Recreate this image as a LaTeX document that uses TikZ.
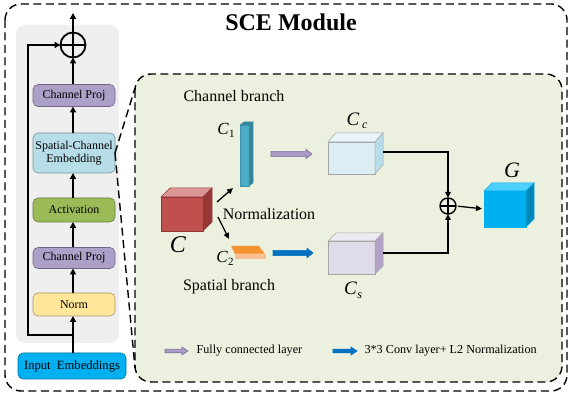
\documentclass[tikz,border=0pt]{standalone}
\usepackage{fontspec}
\setmainfont{Liberation Serif}
\usetikzlibrary{arrows.meta,calc}
\definecolor{panelgray}{HTML}{EFEFEF}
\definecolor{purpleb}{HTML}{AC9FC8}
\definecolor{sceblue}{HTML}{B7DEE8}
\definecolor{actgreen}{HTML}{9BBB59}
\definecolor{normyel}{HTML}{FFE699}
\definecolor{inblue}{HTML}{00B0F0}
\definecolor{greenbg}{HTML}{EBF1DE}
\definecolor{redF}{HTML}{C0504D}
\definecolor{redT}{HTML}{D99694}
\definecolor{redS}{HTML}{953735}
\definecolor{barF}{HTML}{4BACC6}
\definecolor{barT}{HTML}{31859C}
\definecolor{ccF}{HTML}{DAEEF3}
\definecolor{ccT}{HTML}{E9F5F8}
\definecolor{ccS}{HTML}{B7DEE8}
\definecolor{csF}{HTML}{E0DBE9}
\definecolor{csT}{HTML}{ECE9F1}
\definecolor{csS}{HTML}{B3A2C7}
\definecolor{gF}{HTML}{00B0F0}
\definecolor{gT}{HTML}{4DD0FF}
\definecolor{gS}{HTML}{0086B8}
\definecolor{orT}{HTML}{F59331}
\definecolor{orF}{HTML}{FAC090}
\definecolor{convblue}{HTML}{0070C0}
\definecolor{fcpurple}{HTML}{A99BC6}
\definecolor{fcedge}{HTML}{7F6F9F}
\newcommand\cubefaces[6]{%
  \filldraw[fill=#4,draw=#6,line width=0.5pt] (#1.north west) -- ++(#2,-#3) -- ($(#1.north east)+(#2,-#3)$) -- (#1.north east) -- cycle;
  \filldraw[fill=#5,draw=#6,line width=0.5pt] (#1.north east) -- ++(#2,-#3) -- ($(#1.south east)+(#2,-#3)$) -- (#1.south east) -- cycle;}
\newcommand\fatarr[6]{% x y len halfshaft fill draw
  \filldraw[fill=#5,draw=#6,line width=0.6pt] (#1,#2-#4) -- (#1+#3-6,#2-#4) -- (#1+#3-6,#2-#4-2.2) -- (#1+#3,#2) -- (#1+#3-6,#2+#4+2.2) -- (#1+#3-6,#2+#4) -- (#1,#2+#4) -- cycle;}
\begin{document}
\begin{tikzpicture}[x=1pt,y=-1pt,
  dashbox/.style={draw=black,line width=1.4pt,dash pattern=on 8pt off 4.5pt,rounded corners=16pt},
  blk/.style={draw=#1!65!black,line width=0.6pt,rounded corners=5pt,fill=#1,minimum width=82pt,
    align=center,font=\fontsize{12}{13.5}\selectfont,inner sep=1pt,outer sep=0pt},
  flow/.style={line width=1.8pt,-{Triangle[length=6pt,width=6pt]}},
  thin flow/.style={line width=1.3pt,-{Triangle[length=6pt,width=5.5pt]}},
  oplus/.style={circle,draw,line width=#1,inner sep=0pt,outer sep=0pt,
    path picture={\draw[line width=#1] (path picture bounding box.north) -- (path picture bounding box.south)
      (path picture bounding box.west) -- (path picture bounding box.east);}},
  cubef/.style={fill=#1,line width=0.5pt,inner sep=0pt,outer sep=0pt},
  lbl/.style={inner sep=0pt,outer sep=0pt},
]
\useasboundingbox (0,0) rectangle (571,395);
\fill[white] (0,0) rectangle (571,395);

% outer dashed box
\draw[dashbox] (5,4) rectangle (567,391);
\node[font=\fontsize{24}{24}\selectfont\bfseries] (title) at (291,22) {SCE Module};

% left panel
\fill[panelgray,rounded corners=9pt] (16,25) rectangle (119,343);
\node[blk=purpleb,minimum height=22pt] (cp2) at (74,95.5) {Channel Proj};
\node[blk=sceblue,minimum height=40pt] (sce) at (74,153) {Spatial-Channel\\Embedding};
\node[blk=actgreen,minimum height=24pt] (act) at (74,210) {Activation};
\node[blk=purpleb,minimum height=21pt] (cp1) at (74,258) {Channel Proj};
\node[blk=normyel,minimum height=23pt] (norm) at (74,304.5) {Norm};
\node[blk=inblue,minimum width=108pt,minimum height=26pt,font=\fontsize{12.6}{13}\selectfont] (inp) at (72,366) {Input\ \ Embeddings};
\node[oplus=1.8pt,minimum size=25pt] (plus1) at (73,45) {};
\coordinate (split) at (73,335);
\coordinate (outtop) at (73,13);
\coordinate (resL) at (28,335);
\coordinate (resT) at (28,45);

\draw[line width=1.8pt] (inp.north -| split) -- (split);
\draw[flow] (split) -- (norm.south -| split);
\draw[flow] (norm.north -| split) -- (cp1.south -| split);
\draw[flow] (cp1.north -| split) -- (act.south -| split);
\draw[flow] (act.north -| split) -- (sce.south -| split);
\draw[flow] (sce.north -| split) -- (cp2.south -| split);
\draw[flow] (cp2.north -| split) -- (plus1.south);
\draw[flow] (plus1.north) -- (outtop);
\draw[flow] (split) -- (resL) -- (resT) -- (plus1.west);

% green panel
\draw[dashbox,fill=greenbg] (135,74) rectangle (562,382);
\coordinate (gTL) at (135,88);
\coordinate (gBL) at (135,368);
\draw[line width=1.4pt,dash pattern=on 8pt off 4.5pt] (sce.east) -- (gTL);
\draw[line width=1.4pt,dash pattern=on 8pt off 4.5pt] (sce.east) -- (gBL);

\node[font=\fontsize{16}{16}\selectfont] (chb) at (234,96) {Channel branch};
\node[font=\fontsize{16}{16}\selectfont] (spb) at (229,287) {Spatial branch};
\node[font=\fontsize{16}{16}\selectfont] (normtxt) at (269,214) {Normalization};

% C cube
\node[cubef=redF,draw=redS,minimum width=42pt,minimum height=34pt] (C) at (182,214) {};
\cubefaces{C}{9}{9}{redT}{redS}{redS}
\node[lbl,font=\fontsize{24}{24}\selectfont\itshape] (Clab) at (178,245) {C};

% C1 bar
\node[cubef=barF,draw=barF!85!black,minimum width=9pt,minimum height=61pt] (C1) at (244.5,155.5) {};
\cubefaces{C1}{4}{3}{barT}{barT}{barF!85!black}
\node[lbl] (C1lab) at (226,130) {{\fontsize{17}{17}\selectfont\itshape C}\kern0.5pt\raisebox{-0.6ex}{\fontsize{11}{11}\selectfont 1}};

% C2 slab
\node[cubef=orF,draw=orF,minimum width=30pt,minimum height=4pt] (C2) at (250,256) {};
\filldraw[fill=orT,draw=orF,line width=0.5pt] (C2.north west) -- ++(-4,-8) -- ($(C2.north east)+(-6,-8)$) -- (C2.north east) -- cycle;
\node[lbl] (C2lab) at (225,258) {{\fontsize{17}{17}\selectfont\itshape C}\kern0.5pt\raisebox{-0.6ex}{\fontsize{11}{11}\selectfont 2}};

% arrows from C
\draw[thin flow] ($(C.east)+(14,-12)$) -- ($(C1.south west)+(-7,2)$);
\draw[thin flow] ($(C.east)+(15,3)$) -- ($(C2.north west)+(-6,-15)$);

% fat arrows
\fatarr{271}{154}{41}{2.6}{fcpurple}{fcedge}
\fatarr{273}{253}{40}{2.6}{convblue}{convblue}

% Cc and Cs boxes
\node[cubef=ccF,draw=gray!70,minimum width=47pt,minimum height=32pt] (Cc) at (351.5,158) {};
\cubefaces{Cc}{8}{9}{ccT}{ccS}{gray!70}
\node[lbl] (Cclab) at (357,121) {{\fontsize{19}{19}\selectfont\itshape C}\kern3pt\raisebox{-0.6ex}{\fontsize{12}{12}\selectfont\itshape c}};
\node[cubef=csF,draw=gray!70,minimum width=47pt,minimum height=33pt] (Cs) at (351.5,257.5) {};
\cubefaces{Cs}{8}{8}{csT}{csS}{gray!70}
\node[lbl] (Cslab) at (353,290) {{\fontsize{19}{19}\selectfont\itshape C}\kern0.5pt\raisebox{-0.8ex}{\fontsize{12}{12}\selectfont\itshape s}};

% fusion
\node[oplus=1.4pt,minimum size=16pt] (plus2) at (448,206) {};
\draw[thin flow] ($(Cc.east)+(8,-6)$) -| (plus2.north);
\draw[thin flow] ($(Cs.east)+(8,-4.5)$) -| (plus2.south);

% G cube
\node[cubef=gF,draw=gF,minimum width=42pt,minimum height=36pt] (G) at (505,209) {};
\cubefaces{G}{8}{8}{gT}{gS}{gF}
\node[lbl,font=\fontsize{22}{22}\selectfont\itshape] (Glab) at (512,170) {G};
\draw[thin flow,shorten <=2pt,shorten >=2pt] (plus2.east) -- (G.west);

% legend
\fatarr{165}{351}{23}{1.8}{fcpurple}{fcedge}
\node[anchor=west,font=\fontsize{12.2}{13}\selectfont] (leg1) at (193,351) {Fully connected layer};
\fatarr{333}{351}{24}{1.8}{convblue}{convblue}
\node[anchor=west,font=\fontsize{12.2}{13}\selectfont] (leg2) at (361,351) {3*3 Conv layer+ L2 Normalization};
\end{tikzpicture}
\end{document}
